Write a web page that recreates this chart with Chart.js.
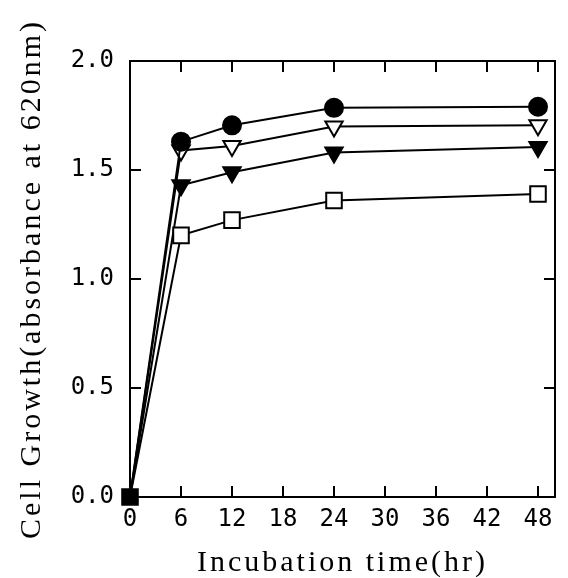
<!DOCTYPE html>
<html>
<head>
<meta charset="utf-8">
<script src="https://cdn.jsdelivr.net/npm/chart.js@4.4.0/dist/chart.umd.min.js"></script>
<style>
  html, body { margin: 0; padding: 0; background: #fff; }
</style>
</head>
<body>
<canvas id="growth-chart" width="568" height="578"></canvas>
<script>
// Incubation time (hr)
const hours = [0, 6, 12, 24, 48];

// absorbance at 620nm
const squareOpen = [0.0, 1.20, 1.27, 1.36, 1.39];
const circleFilled = [0.0, 1.63, 1.705, 1.785, 1.79];
const triOpen = [0.0, 1.59, 1.61, 1.70, 1.705];
const triFilled = [0.0, 1.43, 1.49, 1.58, 1.605];

const xTicks = [0, 6, 12, 18, 24, 30, 36, 42, 48];
const yTicks = [0.0, 0.5, 1.0, 1.5, 2.0];

const tickFont = { family: "'DejaVu Sans Mono', monospace", size: 24 };
const titleFont = { family: "'Liberation Serif', 'Times New Roman', serif", size: 30, lineHeight: 1 };

function toPoints(values) {
  return hours.map((h, i) => ({ x: h, y: values[i] }));
}

// the old plot titles are widely spaced
function spacedTitle(scale) {
  if (scale._spaced) return;
  const orig = scale.drawTitle.bind(scale);
  scale.drawTitle = function () {
    const ctx = scale.ctx;
    ctx.save();
    ctx.letterSpacing = "3px";
    orig();
    ctx.restore();
  };
  scale._spaced = true;
}

// inward tick marks + full frame
const frameTicks = {
  id: "frameTicks",
  afterDraw(chart) {
    const { ctx, chartArea: a, scales } = chart;
    const len = 11;
    ctx.save();
    ctx.strokeStyle = "#000";
    ctx.lineWidth = 2;
    ctx.strokeRect(a.left, a.top, a.right - a.left, a.bottom - a.top);
    ctx.beginPath();
    xTicks.forEach((t) => {
      if (t === 0) return;
      const px = Math.round(scales.x.getPixelForValue(t));
      ctx.moveTo(px, a.bottom);
      ctx.lineTo(px, a.bottom - len);
      ctx.moveTo(px, a.top);
      ctx.lineTo(px, a.top + len);
    });
    yTicks.forEach((t) => {
      if (t === 0 || t === 2) return;
      const py = Math.round(scales.y.getPixelForValue(t));
      ctx.moveTo(a.left, py);
      ctx.lineTo(a.left + len, py);
      ctx.moveTo(a.right, py);
      ctx.lineTo(a.right - len, py);
    });
    ctx.stroke();
    ctx.restore();
  },
};

const common = {
  borderColor: "#000",
  borderWidth: 2,
  pointBorderColor: "#000",
  pointBorderWidth: 2,
  tension: 0,
  clip: false,
};

new Chart(document.getElementById("growth-chart"), {
  type: "line",
  data: {
    datasets: [
      {
        ...common,
        data: toPoints(squareOpen),
        pointStyle: "rect",
        pointRadius: [11, 11, 11, 11, 11],
        pointBackgroundColor: ["#000", "#fff", "#fff", "#fff", "#fff"],
      },
      {
        ...common,
        data: toPoints(circleFilled),
        pointStyle: "circle",
        pointRadius: [6, 9, 9, 9, 9],
        pointBackgroundColor: "#000",
      },
      {
        ...common,
        data: toPoints(triOpen),
        pointStyle: "triangle",
        pointRotation: 180,
        pointRadius: [6, 10, 10, 10, 10],
        pointBackgroundColor: "#fff",
      },
      {
        ...common,
        data: toPoints(triFilled),
        pointStyle: "triangle",
        pointRotation: 180,
        pointRadius: [6, 10, 10, 10, 10],
        pointBackgroundColor: "#000",
      },
    ],
  },
  options: {
    responsive: false,
    animation: false,
    devicePixelRatio: 1,
    layout: { padding: { top: 61, right: 2, left: 0, bottom: 0 } },
    plugins: {
      legend: { display: false },
      tooltip: { enabled: false },
    },
    scales: {
      x: {
        type: "linear",
        min: 0,
        max: 50,
        afterBuildTicks: (scale) => {
          scale.ticks = xTicks.map((v) => ({ value: v }));
        },
        afterFit: (scale) => {
          scale.height = 81;
        },
        afterUpdate: spacedTitle,
        grid: { display: false, drawTicks: false },
        border: { display: false },
        ticks: {
          color: "#000",
          font: tickFont,
          padding: 8,
          maxRotation: 0,
          autoSkip: false,
        },
        title: {
          display: true,
          text: "Incubation time(hr)",
          color: "#000",
          font: titleFont,
          padding: { top: 0, bottom: 0 },
        },
      },
      y: {
        type: "linear",
        min: 0,
        max: 2,
        afterBuildTicks: (scale) => {
          scale.ticks = yTicks.map((v) => ({ value: v }));
        },
        afterFit: (scale) => {
          scale.width = 130;
        },
        afterUpdate: spacedTitle,
        grid: { display: false, drawTicks: false },
        border: { display: false },
        ticks: {
          color: "#000",
          font: tickFont,
          padding: 16,
          callback: (v) => v.toFixed(1),
        },
        title: {
          display: true,
          text: "Cell Growth(absorbance at 620nm)",
          color: "#000",
          font: titleFont,
          padding: { top: 17, bottom: 0 },
        },
      },
    },
  },
  plugins: [frameTicks],
});
</script>
</body>
</html>
